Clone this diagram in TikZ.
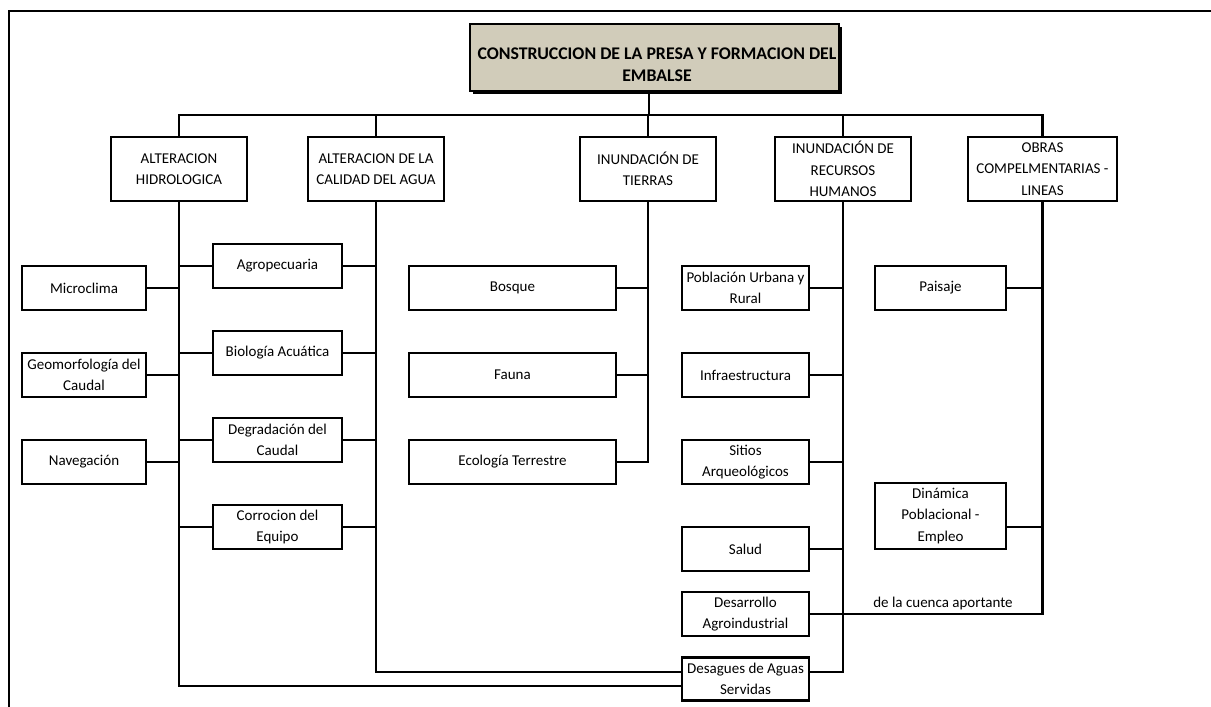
\documentclass[tikz,border=0pt]{standalone}
\usepackage{fontspec}
\setmainfont{Carlito}
\usetikzlibrary{calc,shadows}
\definecolor{mainfill}{RGB}{209,204,186}
\begin{document}
\begin{tikzpicture}[x=1pt,y=-1pt,
  every node/.style={font=\fontsize{15}{21.5}\selectfont, inner sep=0pt},
  box/.style={draw, line width=2.3pt, align=center, minimum height=44pt},
  hbox/.style={box, minimum height=64pt, minimum width=136pt},
  lbox/.style={box, minimum width=124pt},
  mbox/.style={box, minimum width=129pt},
  tbox/.style={box, minimum width=207pt},
  rbox/.style={box, minimum width=127pt},
  obox/.style={box, minimum width=131pt},
  link/.style={line width=2.3pt}
]
\useasboundingbox (0,0) rectangle (1211,707);
% frame
\draw[line width=2.5pt] (9,707) -- (9,11) -- (1211,11);

% main box
\node[box, fill=mainfill, minimum width=369pt, minimum height=67pt,
  drop shadow={shadow xshift=3pt, shadow yshift=-3pt, fill=black, opacity=1}] (main) at (654.5,57.5) {};
\node[align=center, font=\fontsize{17.8}{22}\selectfont\bfseries] (maintext) at (657,65)
  {CONSTRUCCION DE LA PRESA Y FORMACION DEL\\EMBALSE};
\coordinate (bus) at (649,115);

% level 2
\node[hbox] (AH) at (179,169) {ALTERACION\\HIDROLOGICA};
\node[hbox] (ACA) at (376,169) {ALTERACION DE LA\\CALIDAD DEL AGUA};
\node[hbox] (IT) at (648,169) {INUNDACIÓN DE\\TIERRAS};
\node[hbox] (IRH) at (843,169) {INUNDACIÓN DE\\RECURSOS\\HUMANOS};
\node[hbox, minimum width=149pt] (OC) at (1042.5,169) {OBRAS\\COMPELMENTARIAS -\\LINEAS};

% left of AH
\node[lbox] (micro) at (84,288) {Microclima};
\node[lbox] (geo) at (84,375) {Geomorfología del\\Caudal};
\node[lbox] (nav) at (84,462) {Navegación};

% between AH and ACA
\node[mbox] (agro) at (277.5,266) {Agropecuaria};
\node[mbox] (bio) at (277.5,353) {Biología Acuática};
\node[mbox] (deg) at (277.5,440) {Degradación del\\Caudal};
\node[mbox] (corr) at (277.5,527) {Corrocion del\\Equipo};

% IT
\node[tbox] (bosque) at (512.5,288) {Bosque};
\node[tbox] (fauna) at (512.5,375) {Fauna};
\node[tbox] (eco) at (512.5,462) {Ecología Terrestre};

% IRH
\node[rbox] (pob) at (745.5,288) {Población Urbana y\\Rural};
\node[rbox] (infra) at (745.5,375) {Infraestructura};
\node[rbox] (sitios) at (745.5,462) {Sitios\\Arqueológicos};
\node[rbox] (salud) at (745.5,549) {Salud};
\node[rbox] (desa) at (745.5,614) {Desarrollo\\Agroindustrial};
\node[rbox, minimum height=43pt] (desag) at (745.5,679) {Desagues de Aguas\\Servidas};

% OC
\node[obox] (pais) at (940.5,288) {Paisaje};
\node[obox, minimum height=66pt] (din) at (940.5,516) {Dinámica\\Poblacional -\\Empleo};

% trunk and bus
\draw[link] (main.south -| bus) -- (bus);
\draw[link] (AH.north) -- (AH.north |- bus) -- (OC.north |- bus) -- (OC.north);
\draw[link] (ACA.north) -- (ACA.north |- bus);
\draw[link] (IT.north) -- (IT.north |- bus);
\draw[link] (IRH.north) -- (IRH.north |- bus);

% columns
\coordinate (dA) at ($(desag.west)+(0,-7)$);
\coordinate (dB) at ($(desag.west)+(0,7)$);
\coordinate (dC) at ($(desag.east)+(0,-7)$);
\coordinate (dinE) at ($(din.east)+(0,11)$);
\draw[link] (AH.south) -- (AH.south |- dB) -- (dB);
\draw[link] (ACA.south) -- (ACA.south |- dA) -- (dA);
\draw[link] (IT.south) -- (IT.south |- eco.east) -- (eco.east);
\draw[link] (IRH.south) -- (IRH.south |- dC) -- (dC);
\draw[link] (OC.south) -- (OC.south |- desa.east) -- (desa.east);

% branches
\foreach \b in {micro,geo,nav} \draw[link] (\b.east) -- (\b.east -| AH.south);
\foreach \b in {agro,bio,deg,corr} {
  \draw[link] (\b.west -| AH.south) -- (\b.west);
  \draw[link] (\b.east) -- (\b.east -| ACA.south);
}
\foreach \b in {bosque,fauna} \draw[link] (\b.east) -- (\b.east -| IT.south);
\foreach \b in {pob,infra,sitios,salud} \draw[link] (\b.east) -- (\b.east -| IRH.south);
\draw[link] (pais.east) -- (pais.east -| OC.south);
\draw[link] (dinE) -- (dinE -| OC.south);

\node (cuenca) at (943,603) {de la cuenca aportante};
\end{tikzpicture}
\end{document}
